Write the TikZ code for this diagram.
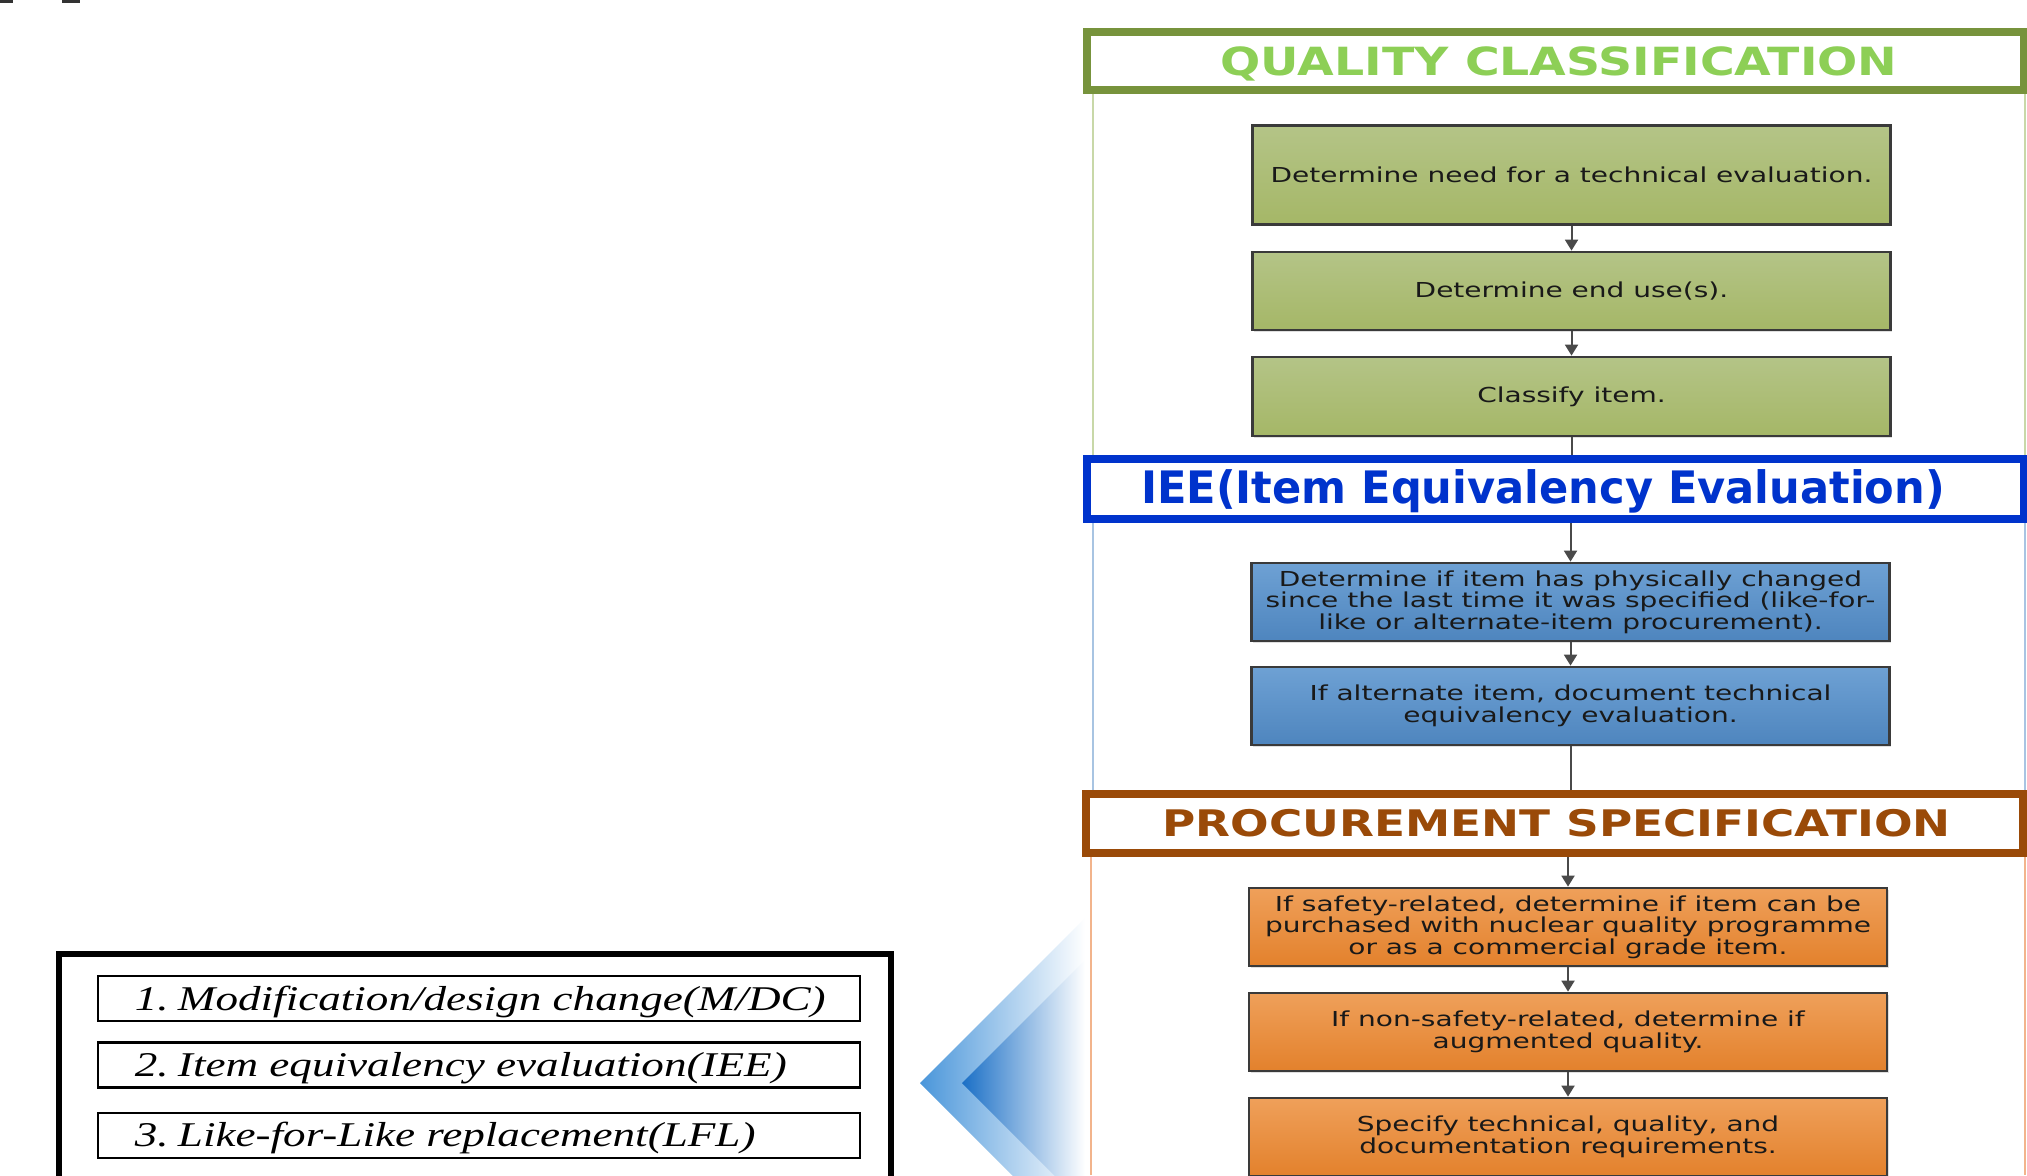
\documentclass[tikz,border=0pt]{standalone}
\usepackage{fontspec}
\usetikzlibrary{arrows.meta,shadows}
\newfontfamily\bodyfont[FakeStretch=1.36]{DejaVu Sans}
\newfontfamily\qfont[FakeStretch=1.22]{DejaVu Sans}
\newfontfamily\ieefont[FakeStretch=0.965]{DejaVu Sans}
\newfontfamily\pfont[FakeStretch=1.24]{DejaVu Sans}
\newfontfamily\itfont[FakeStretch=1.30]{Liberation Serif}
\definecolor{gTop}{HTML}{B4C487}
\definecolor{gBot}{HTML}{A5B767}
\definecolor{bTop}{HTML}{6EA1D4}
\definecolor{bBot}{HTML}{4E85BE}
\definecolor{oTop}{HTML}{EFA05A}
\definecolor{oBot}{HTML}{E3812C}
\definecolor{boxline}{HTML}{3A3A3A}
\definecolor{qborder}{HTML}{77933C}
\definecolor{qtext}{HTML}{8DCF56}
\definecolor{ieeblue}{HTML}{0033CC}
\definecolor{pbrown}{HTML}{9A4A08}
\definecolor{cgreen}{HTML}{C8D8A8}
\definecolor{cblue}{HTML}{A8C4E2}
\definecolor{corange}{HTML}{F2B48C}
\definecolor{connc}{HTML}{4A4A4A}
\definecolor{chevA}{HTML}{4A96DA}
\definecolor{chevB}{HTML}{1A6FC6}
\begin{document}
\begin{tikzpicture}[x=0.5pt,y=-0.5pt,
  stepbox/.style={draw=boxline, line width=1.4pt, minimum width=319pt, inner sep=2pt,
    align=center, text=black!90,
    font=\bodyfont\fontsize{10.3pt}{10.75pt}\selectfont,
    drop shadow={opacity=0.25,shadow xshift=0.8pt,shadow yshift=-0.8pt}},
  greenbox/.style={stepbox, top color=gTop, bottom color=gBot},
  bluebox/.style={stepbox, top color=bTop, bottom color=bBot},
  orangebox/.style={stepbox, top color=oTop, bottom color=oBot},
  titlebox/.style={fill=white, line width=4pt, minimum width=468.5pt, inner sep=0pt},
  conn/.style={draw=connc, line width=1pt},
  arr/.style={conn, -{Triangle[width=6.5pt,length=5.5pt]}},
  itembox/.style={draw=black, line width=1.2pt, minimum width=381pt, minimum height=22.5pt, inner sep=0pt},
  itemtext/.style={anchor=base west, inner sep=0pt, font=\itfont\itshape\fontsize{17.35pt}{20pt}\selectfont},
  secline/.style={line width=1pt}
]
\useasboundingbox (0,0) rectangle (2027,1175);
\clip (0,0) rectangle (2027,1175);
\fill[white] (0,0) rectangle (2027,1175);
% small marks top-left
\fill[black!80] (0,0) rectangle (13,2.5);
\fill[black!80] (62,0) rectangle (80,2.5);

% section container lines
\draw[secline, cgreen] (1093,90) -- (1093,459);
\draw[secline, cgreen] (2025,90) -- (2025,459);
\draw[secline, cblue] (1093,519) -- (1093,794);
\draw[secline, cblue] (2025,519) -- (2025,794);
\draw[secline, corange] (1091,853) -- (1091,1175);
\draw[secline, corange] (2025,853) -- (2025,1175);

% chevron
\shade[left color=chevA, right color=white] (920,1083) -- (1085,918) -- (1085,1248) -- cycle;
\shade[left color=chevB, right color=white] (962,1083) -- (1085,960) -- (1085,1206) -- cycle;

% title boxes
\node[titlebox, draw=qborder, minimum height=28.75pt] (qbox) at (1555.5,61) {};
\node[titlebox, draw=ieeblue, minimum height=30pt] (ieebox) at (1555.5,489) {};
\node[titlebox, draw=pbrown, minimum height=29.5pt] (pbox) at (1554.5,823.5) {};
\node[anchor=base, inner sep=0pt, text=qtext, font=\qfont\bfseries\fontsize{19.4pt}{22pt}\selectfont] (qtitle) at (1559,75) {QUALITY CLASSIFICATION};
\node[anchor=base, inner sep=0pt, text=ieeblue, font=\ieefont\bfseries\fontsize{22.35pt}{25pt}\selectfont] (ieetitle) at (1543,503.3) {IEE(Item Equivalency Evaluation)};
\node[anchor=base, inner sep=0pt, text=pbrown, font=\pfont\bfseries\fontsize{18.3pt}{21pt}\selectfont] (ptitle) at (1556.7,836.7) {PROCUREMENT SPECIFICATION};

% green steps
\node[greenbox, minimum height=49.5pt] (g1) at (1571.5,175) {Determine need for a technical evaluation.};
\node[greenbox, minimum height=39pt] (g2) at (1571.5,291) {Determine end use(s).};
\node[greenbox, minimum height=39.5pt] (g3) at (1571.5,396.5) {Classify item.};
% blue steps
\node[bluebox, minimum height=39pt] (b1) at (1570.5,602) {Determine if item has physically changed\\since the last time it was specified (like-for-\\like or alternate-item procurement).};
\node[bluebox, minimum height=39pt] (b2) at (1570.5,706) {If alternate item, document technical\\equivalency evaluation.};
% orange steps
\node[orangebox, minimum height=39pt] (o1) at (1568,927) {If safety-related, determine if item can be\\purchased with nuclear quality programme\\or as a commercial grade item.};
\node[orangebox, minimum height=39pt] (o2) at (1568,1032) {If non-safety-related, determine if\\augmented quality.};
\node[orangebox, minimum height=39pt] (o3) at (1568,1137) {Specify technical, quality, and\\documentation requirements.};

% connectors
\draw[arr] (g1.south) -- (g2.north);
\draw[arr] (g2.south) -- (g3.north);
\draw[conn] (g3.south) -- (g3.south |- ieebox.north);
\draw[arr] (b1.north |- ieebox.south) -- (b1.north);
\draw[arr] (b1.south) -- (b2.north);
\draw[conn] (b2.south) -- (b2.south |- pbox.north);
\draw[arr] (o1.north |- pbox.south) -- (o1.north);
\draw[arr] (o1.south) -- (o2.north);
\draw[arr] (o2.south) -- (o3.north);

% left panel
\node[draw=black, line width=3pt, minimum width=416pt, minimum height=130pt, anchor=north west, inner sep=0pt] (panel) at (56,951) {};
\node[itembox] (i1) at (479,998.5) {};
\node[itembox] (i2) at (479,1065) {};
\node[itembox] (i3) at (479,1135.5) {};
\node[itemtext] (t1) at (134.5,1010) {1.\kern-1pt\ Modification/design change(M/DC)};
\node[itemtext] (t2) at (134.5,1076.7) {2.\kern-1pt\ Item equivalency evaluation(IEE)};
\node[itemtext] (t3) at (134.5,1146.7) {3.\kern-1pt\ Like-for-Like replacement(LFL)};
\end{tikzpicture}
\end{document}
